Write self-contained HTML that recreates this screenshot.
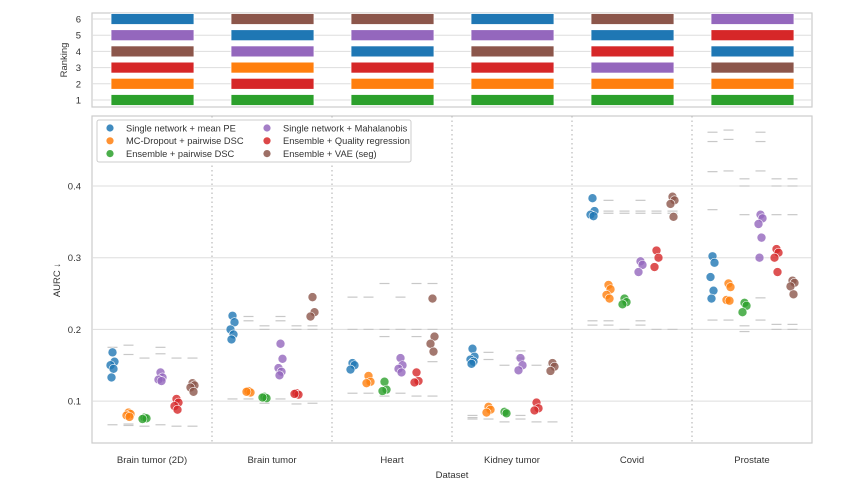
<!DOCTYPE html>
<html><head><meta charset="utf-8"><style>
body{margin:0;background:#fff;}
svg{display:block;font-family:"Liberation Sans",sans-serif;}
</style></head><body>
<svg id="c" width="862" height="491"></svg>
<script>
const datasets=["Brain tumor (2D)","Brain tumor","Heart","Kidney tumor","Covid","Prostate"];
const methods=["Single network + mean PE","MC-Dropout + pairwise DSC","Ensemble + pairwise DSC","Single network + Mahalanobis","Ensemble + Quality regression","Ensemble + VAE (seg)"];
const colors=["#1f77b4","#ff7f0e","#2ca02c","#9467bd","#d62728","#8c564b"];
const yTicks=[0.1,0.2,0.3,0.4];
const rankTicks=[1,2,3,4,5,6];
// ranking: method index per rank 1..6 for each dataset
const rankings=[[2,1,4,5,3,0],[2,4,1,3,0,5],[2,1,4,0,3,5],[2,1,4,5,3,0],[2,1,3,4,0,5],[2,1,5,0,4,3]];
const points=[
 [[.168,.155,.150,.145,.133],[.084,.082,.080,.078],[.077,.076,.075],[.140,.133,.130,.128],[.103,.098,.093,.088],[.125,.122,.119,.113]],
 [[.219,.210,.200,.193,.186],[.114,.112,.113],[.106,.104,.105],[.180,.159,.146,.141,.136],[.111,.109,.110],[.245,.224,.218]],
 [[.153,.150,.144],[.135,.127,.125],[.127,.116,.114],[.160,.150,.145,.140],[.140,.128,.126],[.243,.190,.180,.169]],
 [[.173,.162,.158,.155,.152],[.092,.088,.084],[.085,.083],[.160,.150,.143],[.098,.090,.087],[.153,.148,.142]],
 [[.383,.365,.360,.358],[.262,.256,.248,.243],[.243,.238,.235],[.295,.290,.280],[.310,.300,.287],[.385,.380,.375,.357]],
 [[.302,.293,.273,.254,.243],[.264,.259,.241,.240],[.237,.233,.224],[.360,.355,.347,.328,.300],[.312,.307,.300,.280],[.268,.265,.260,.249]]
];
const refs=[
 [[.175,.067],[.178,.165,.068,.066],[.160,.065],[.175,.166,.067],[.160,.065],[.160,.065]],
 [[.103],[.218,.212,.103],[.205,.200,.097],[.218,.212,.103],[.205,.200,.096],[.205,.200,.097]],
 [[.245,.200,.111],[.245,.200,.111],[.264,.200,.190,.107],[.245,.200,.111],[.264,.200,.190,.107],[.264,.200,.155,.107]],
 [[.080,.077,.075],[.168,.158,.075],[.150,.071],[.170,.160,.080,.075],[.150,.071],[.150,.071]],
 [[.212,.206],[.380,.365,.362,.212,.206],[.365,.362,.200],[.380,.365,.362,.212,.206],[.365,.362,.200],[.365,.362,.200]],
 [[.475,.462,.420,.367,.213],[.478,.465,.421,.213],[.410,.400,.360,.205,.197],[.475,.462,.421,.244,.213],[.410,.400,.360,.207,.200],[.410,.400,.360,.207,.200]]
];
const NS="http://www.w3.org/2000/svg";
const svg=document.getElementById('c');
function el(t,a,p){const e=document.createElementNS(NS,t);for(const k in a)e.setAttribute(k,a[k]);(p||svg).appendChild(e);return e;}
const L=92,R=812,GW=(R-L)/datasets.length;
const y=v=>186+(0.4-v)*717;
const yr=r=>100-(r-1)*16.2;
const gx=(d,m)=>L+20.5+d*GW+m*16;
// top panel
let e=el('rect',{x:L,y:13,width:R-L,height:94,fill:'#fff',stroke:'#ccc','stroke-width':1.2});

rankTicks.forEach(r=>{
 el('line',{x1:L,x2:R,y1:yr(r),y2:yr(r),stroke:'#ddd'});
 let t=el('text',{x:81,y:yr(r)+3.5,'font-size':9.5,fill:'#333','text-anchor':'end'});t.textContent=r;
 
});
rankings.forEach((rk,d)=>rk.forEach((m,i)=>{
 let b=el('rect',{x:L+d*GW+19,y:yr(i+1)-5.5,width:83,height:11,fill:colors[m],stroke:'#fff','stroke-width':0.8});
 
}));
e=el('text',{x:0,y:0,'font-size':9.5,fill:'#333','text-anchor':'middle',transform:'translate(67,60) rotate(-90)'});e.textContent='Ranking';

// bottom panel
e=el('rect',{x:L,y:116,width:R-L,height:327,fill:'#fff',stroke:'#ccc','stroke-width':1.2});

yTicks.forEach(v=>{
 el('line',{x1:L,x2:R,y1:y(v),y2:y(v),stroke:'#ddd'});
 let t=el('text',{x:81,y:y(v)+3.5,'font-size':9.5,fill:'#333','text-anchor':'end'});t.textContent=v.toFixed(1);
 
});
for(let d=1;d<datasets.length;d++){el('line',{x1:L+d*GW,x2:L+d*GW,y1:116,y2:443,stroke:'#bbb','stroke-dasharray':'1.5,3','stroke-width':1.2});}
const jit=[0,2,-2,1,-1,3];
datasets.forEach((name,d)=>{
 let t=el('text',{x:L+d*GW+GW/2,y:463,'font-size':9.5,fill:'#333','text-anchor':'middle'});t.textContent=name;
 
 refs[d].forEach((arr,m)=>arr.forEach(v=>{el('line',{x1:gx(d,m)-5,x2:gx(d,m)+5,y1:y(v),y2:y(v),stroke:'#c8c8c8','stroke-width':1.2});}));
 points[d].forEach((arr,m)=>arr.forEach((v,i)=>{
  let c=el('circle',{cx:gx(d,m)+jit[i%6],cy:y(v),r:4.5,fill:colors[m],'fill-opacity':0.8,stroke:'#fff','stroke-width':0.6});
  
 }));
});
e=el('text',{x:0,y:0,'font-size':9.5,fill:'#333','text-anchor':'middle',transform:'translate(60,280) rotate(-90)'});e.textContent='AURC ↓';

e=el('text',{x:452,y:478,'font-size':9.5,fill:'#333','text-anchor':'middle'});e.textContent='Dataset';

// legend
const lg=el('g',{});
el('rect',{x:97,y:120,width:314,height:42,fill:'#fff',stroke:'#ccc','fill-opacity':0.9,rx:2},lg);
methods.forEach((m,i)=>{
 const col=i<3?0:1,row=i%3,lx=col?267:110,ly=128+row*12.8;
 const g=el('g',{},lg);
 el('circle',{cx:lx,cy:ly,r:3.6,fill:colors[i],'fill-opacity':0.85},g);
 const t=el('text',{x:lx+16,y:ly+3.3,'font-size':9.3,fill:'#333'},g);t.textContent=m;
});
</script>
</body></html>
